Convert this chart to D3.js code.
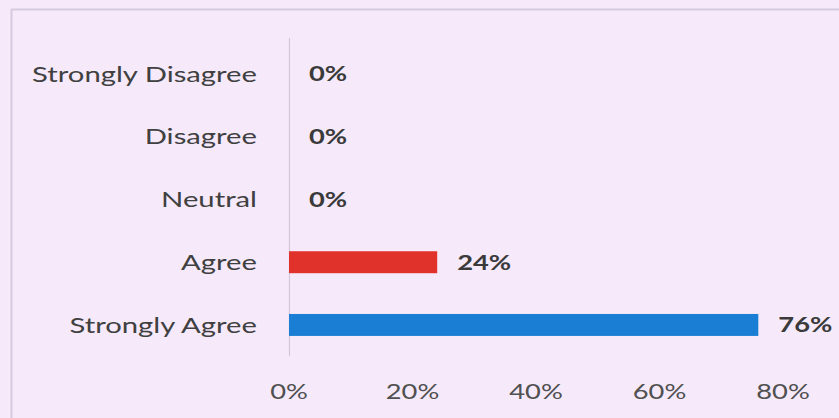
<!DOCTYPE html>
<html><head><meta charset="utf-8">
<script src="https://cdn.jsdelivr.net/npm/d3@7"></script>
<style>
html,body{margin:0;padding:0;background:#f5e9fa;}
svg{display:block;}
text{font-family:Lato,"Open Sans",sans-serif;}
</style></head>
<body><svg id="c" width="839" height="418"></svg>
<script>
const categories = ["Strongly Disagree","Disagree","Neutral","Agree","Strongly Agree"];
const values = [0, 0, 0, 24, 76];
const barColors = ["#e0312a","#e0312a","#e0312a","#e0312a","#1a7fd4"];
const xTicks = [0, 20, 40, 60, 80];

const SX = 1.3; // horizontal stretch of the reference image
const FS = 21;

const svg = d3.select("#c");
svg.append("rect").attr("width",839).attr("height",418).attr("fill","#f5e9fa");
// frame
svg.append("line").attr("x1",11).attr("x2",839).attr("y1",9.5).attr("y2",9.5).attr("stroke","#d6cadf").attr("stroke-width",2);
svg.append("line").attr("x1",11.5).attr("x2",11.5).attr("y1",9).attr("y2",418).attr("stroke","#d6cadf").attr("stroke-width",2);

const x = d3.scaleLinear().domain([0,80]).range([289,783]);
const y = d3.scaleBand().domain(categories).range([43,356]).paddingInner(0.65).paddingOuter(0.32);

// axis line
svg.append("line").attr("x1",289.5).attr("x2",289.5).attr("y1",38).attr("y2",356).attr("stroke","#d2c8da").attr("stroke-width",1.2);

svg.selectAll("rect.bar").data(values).join("rect").attr("class","bar")
  .attr("x",x(0)).attr("y",(d,i)=>y(categories[i]))
  .attr("width",d=>x(d)-x(0)).attr("height",y.bandwidth())
  .attr("fill",(d,i)=>barColors[i]);

svg.selectAll("text.cat").data(categories).join("text").attr("class","cat")
  .attr("transform",d=>`translate(257,${y(d)+y.bandwidth()/2}) scale(1.33,1)`).attr("dy","0.35em")
  .attr("text-anchor","end").attr("font-size",22).attr("fill","#404040").text(d=>d);

svg.selectAll("text.val").data(values).join("text").attr("class","val")
  .attr("transform",(d,i)=>`translate(${x(d)+20},${y(categories[i])+y.bandwidth()/2}) scale(${SX},1)`).attr("dy","0.35em")
  .attr("font-size",FS).attr("font-weight","bold").attr("fill","#3a3a3a").text(d=>d+"%");

svg.selectAll("text.tick").data(xTicks).join("text").attr("class","tick")
  .attr("transform",d=>`translate(${x(d)},392) scale(${SX},1)`).attr("dy","0.35em")
  .attr("text-anchor","middle").attr("font-size",FS).attr("fill","#505050").text(d=>d+"%");
</script></body></html>
